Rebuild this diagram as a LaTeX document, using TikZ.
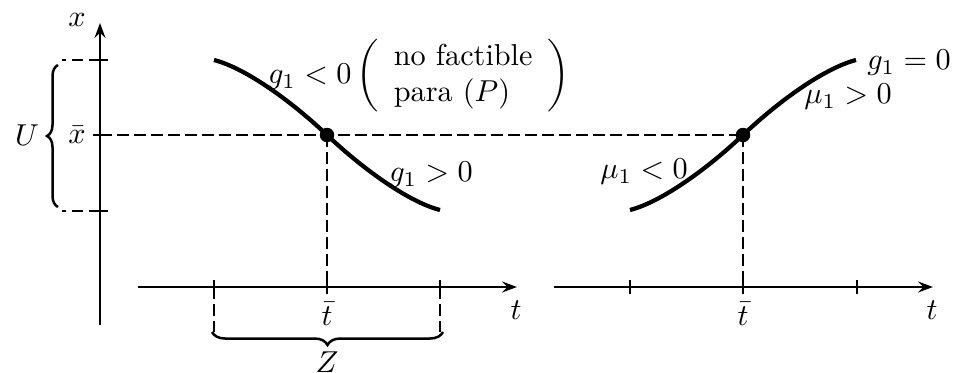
\documentclass[tikz,border=0pt]{standalone}
\usetikzlibrary{arrows.meta,decorations.pathreplacing}
\newcommand{\lbtxt}[1]{\scalebox{1.21}{#1}}
\begin{document}
\begin{tikzpicture}[x=0.4pt,y=-0.4pt,
  axis/.style={line width=0.8pt},
  axisarrow/.style={axis,-{Stealth[length=6pt,width=4.4pt,inset=2.2pt]}},
  dashline/.style={line width=0.8pt,dash pattern=on 4.6pt off 2.2pt},
  curveline/.style={line width=1.7pt},
  dotpt/.style={circle,fill,inner sep=0pt,minimum size=5.8pt},
  lbl/.style={inner sep=0pt,font=\fontsize{10}{12}\selectfont},
  tickmark/.style={line width=0.8pt},
  bracedeco/.style={decorate,line width=1pt}]
\useasboundingbox (0,0) rectangle (954,373);
% vertical axis
\coordinate (vbot) at (100,325);
\coordinate (vtop) at (100,23);
\draw[axisarrow] (vbot) -- (vtop);
\coordinate (xU) at (100,60);
\coordinate (xbar) at (100,135);
\coordinate (xL) at (100,211);
\coordinate (uU) at (62,60);
\coordinate (uL) at (62,211);
\foreach \p in {xU,xbar,xL}{\draw[tickmark] ([xshift=-3pt]\p) -- ([xshift=3pt]\p);}
\draw[dashline] (xU) -- (uU);
\draw[dashline] (xL) -- (uL);
% left t axis
\coordinate (a1s) at (138,287);
\coordinate (a1e) at (517,287);
\draw[axisarrow] (a1s) -- (a1e);
\coordinate (t1l) at (214,287);
\coordinate (t1m) at (327,287);
\coordinate (t1r) at (440,287);
\foreach \p in {t1l,t1m,t1r}{\draw[tickmark] ([yshift=-2.8pt]\p) -- ([yshift=2.8pt]\p);}
% right t axis
\coordinate (a2s) at (554,287);
\coordinate (a2e) at (933,287);
\draw[axisarrow] (a2s) -- (a2e);
\coordinate (t2l) at (630,287);
\coordinate (t2m) at (743,287);
\coordinate (t2r) at (857,287);
\foreach \p in {t2l,t2m,t2r}{\draw[tickmark] ([yshift=-2.8pt]\p) -- ([yshift=2.8pt]\p);}
% dots
\coordinate (p1) at (327,135);
\coordinate (p2) at (743,135);
% dashed lines
\draw[dashline] (xbar) -- (p2);
\draw[dashline] (p1) -- (t1m);
\draw[dashline] (p2) -- (t2m);
\coordinate (zl) at (214,332);
\coordinate (zr) at (440,332);
\draw[dashline] (t1l) -- (zl);
\draw[dashline] (t1r) -- (zr);
% curves
\draw[curveline] (214,60) .. controls (245,68) and (290,100) .. (p1)
   .. controls (364,170) and (409,202) .. (440,210);
\draw[curveline] (630,210) .. controls (661,202) and (706,170) .. (p2)
   .. controls (780,100) and (825,68) .. (856,60);
\node[dotpt] (d1) at (p1) {};
\node[dotpt] (d2) at (p2) {};
% braces
\draw[bracedeco,decoration={brace,mirror,amplitude=5.2pt}] (212,332) -- (443,332);
\draw[bracedeco,decoration={brace,amplitude=4.4pt}] (58,207) -- (58,65);
% labels
\node[lbl] (lx) at (77,20) {\lbtxt{$x$}};
\node[lbl] (lU) at (27,135) {\lbtxt{$U$}};
\node[lbl] (lxb) at (77,135) {\lbtxt{$\bar{x}$}};
\node[lbl] (lt1) at (516,310) {\lbtxt{$t$}};
\node[lbl,anchor=north] (ltb1) at (327,302) {\lbtxt{$\bar{t}$}};
\node[lbl] (lt2) at (932,310) {\lbtxt{$t$}};
\node[lbl,anchor=north] (ltb2) at (743,302) {\lbtxt{$\bar{t}$}};
\node[lbl,anchor=north] (lZ) at (327,351) {\lbtxt{$Z$}};
\node[lbl] (lnf) at (419,76) {\lbtxt{$g_1<0\left(\begin{array}{l}\mbox{no factible}\\ \mbox{para }(P)\end{array}\right)$}};
\node[lbl] (lgp) at (431,175) {\lbtxt{$g_1>0$}};
\node[lbl] (lmn) at (644,172) {\lbtxt{$\mu_1<0$}};
\node[lbl] (lmp) at (848,97) {\lbtxt{$\mu_1>0$}};
\node[lbl] (lg0) at (909,63) {\lbtxt{$g_1=0$}};
\end{tikzpicture}
\end{document}
